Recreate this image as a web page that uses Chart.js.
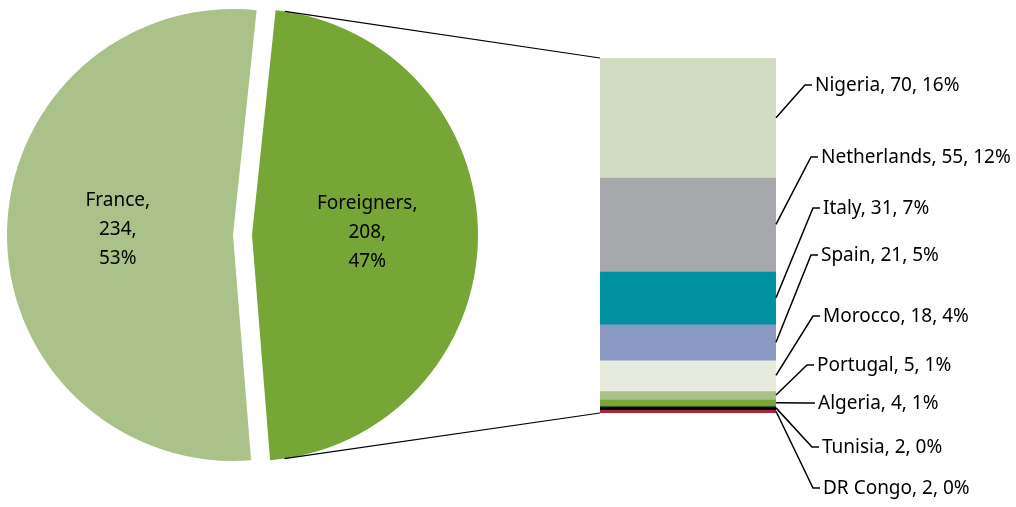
<!DOCTYPE html>
<html><head><meta charset="utf-8">
<script src="https://cdn.jsdelivr.net/npm/chart.js@4/dist/chart.umd.min.js"></script>
<style>
html,body{margin:0;padding:0;background:#fff;}
#wrap{position:relative;width:1016px;height:507px;overflow:hidden;}
canvas{position:absolute;left:0;top:0;}
</style></head><body>
<div id="wrap">
<canvas id="pieA" width="1016" height="507"></canvas>
<canvas id="pieB" width="1016" height="507"></canvas>
<canvas id="bar" width="1016" height="507"></canvas>
</div>
<script>
// ---- data ----
const pieLabels = ['Foreigners', 'France'];
const pieValues = [208, 234];
const pieColors = ['#75a636', '#aac289'];

const barLabels = ['Nigeria', 'Netherlands', 'Italy', 'Spain', 'Morocco', 'Portugal', 'Algeria', 'Tunisia', 'DR Congo'];
const barValues = [70, 55, 31, 21, 18, 5, 4, 2, 2];
const barColors = ['#d1dcc3', '#a7a8ab', '#0091a0', '#8a98c4', '#e6ebde', '#aac289', '#75a636', '#000000', '#a8283a'];

// ---- layout (label anchor positions, not data) ----
const labelX = [815, 821, 823, 821, 823, 817, 818, 822, 823];
const labelY = [85, 157, 208, 255, 316, 365, 403, 447, 488];

const FONT = '19px "Noto Sans", "Open Sans", sans-serif';
const total = pieValues.reduce((a, b) => a + b, 0);
const pct = v => Math.round(v / total * 100) + '%';

function pieLabelPlugin(idx) {
  return {
    id: 'pieLbl' + idx,
    afterDatasetsDraw(chart) {
      const arc = chart.getDatasetMeta(0).data[idx];
      const mid = (arc.startAngle + arc.endAngle) / 2;
      const r = arc.outerRadius;
      const x = arc.x + 0.51 * r * Math.cos(mid);
      const y = arc.y + 0.51 * r * Math.sin(mid) - 4;
      const ctx = chart.ctx;
      ctx.save();
      ctx.font = FONT;
      ctx.fillStyle = '#000';
      ctx.textAlign = 'center';
      ctx.textBaseline = 'middle';
      const lines = [pieLabels[idx] + ',', pieValues[idx] + ',', pct(pieValues[idx])];
      lines.forEach((t, k) => ctx.fillText(t, x, y + (k - 1) * 29));
      ctx.restore();
    }
  };
}

function makePie(id, idx, cx) {
  return new Chart(document.getElementById(id), {
    type: 'pie',
    data: {
      labels: pieLabels,
      datasets: [{
        data: pieValues,
        backgroundColor: pieColors.map((c, i) => i === idx ? c : 'rgba(0,0,0,0)'),
        borderWidth: 0,
        hoverOffset: 0,
        clip: false
      }]
    },
    options: {
      responsive: false,
      animation: false,
      events: [],
      rotation: 6,
      radius: 226,
      layout: { padding: { left: cx - 233, right: 1016 - (cx + 233), top: 0, bottom: 37 } },
      plugins: { legend: { display: false }, tooltip: { enabled: false } }
    },
    plugins: [pieLabelPlugin(idx)]
  });
}

const pieA = makePie('pieA', 1, 233); // France
const pieB = makePie('pieB', 0, 252); // Foreigners (exploded)

const overlayPlugin = {
  id: 'overlay',
  afterDraw(chart) {
    const ctx = chart.ctx;
    const y = chart.scales.y;
    const bar = chart.getDatasetMeta(0).data[0];
    const left = bar.x - bar.width / 2;
    const right = bar.x + bar.width / 2;
    const sum = barValues.reduce((a, b) => a + b, 0);
    const top = y.getPixelForValue(0);
    const bottom = y.getPixelForValue(sum);

    // connector lines tangent to the exploded slice
    const arc = pieB.getDatasetMeta(0).data[0];
    const cx = arc.x, cy = arc.y, r = arc.outerRadius;
    ctx.save();
    ctx.strokeStyle = '#000';
    ctx.lineWidth = 1.2;
    [[left, top, -1], [left, bottom, 1]].forEach(([px, py, s]) => {
      const dx = px - cx, dy = py - cy;
      const d = Math.hypot(dx, dy);
      const a = Math.atan2(dy, dx) + s * Math.acos(r / d);
      ctx.beginPath();
      ctx.moveTo(cx + r * Math.cos(a), cy + r * Math.sin(a));
      ctx.lineTo(px, py);
      ctx.stroke();
    });

    // leader lines + labels
    ctx.lineWidth = 1.5;
    ctx.font = FONT;
    ctx.fillStyle = '#000';
    ctx.textAlign = 'left';
    ctx.textBaseline = 'middle';
    let cum = 0;
    barValues.forEach((v, i) => {
      const my = y.getPixelForValue(cum + v / 2);
      cum += v;
      const tx = labelX[i], ty = labelY[i];
      ctx.beginPath();
      ctx.moveTo(right, my);
      ctx.lineTo(tx - 10, ty);
      ctx.lineTo(tx - 3, ty);
      ctx.stroke();
      ctx.fillText(barLabels[i] + ', ' + v + ', ' + pct(v), tx, ty + 1);
    });
    ctx.restore();
  }
};

new Chart(document.getElementById('bar'), {
  type: 'bar',
  data: {
    labels: ['Foreigners'],
    datasets: barLabels.map((l, i) => ({
      label: l,
      data: [barValues[i]],
      backgroundColor: barColors[i],
      borderWidth: 0,
      barPercentage: 1,
      categoryPercentage: 1
    }))
  },
  options: {
    responsive: false,
    animation: false,
    events: [],
    layout: { padding: { left: 600, right: 240, top: 58, bottom: 94 } },
    scales: {
      x: { display: false, stacked: true },
      y: { display: false, stacked: true, reverse: true, min: 0, max: 208 }
    },
    plugins: { legend: { display: false }, tooltip: { enabled: false } }
  },
  plugins: [overlayPlugin]
});
</script>
</body></html>
